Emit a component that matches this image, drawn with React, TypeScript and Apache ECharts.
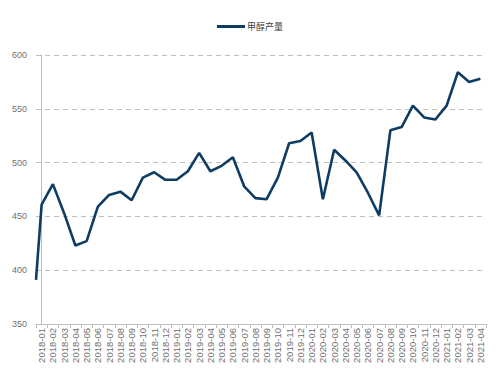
import React, { useEffect, useRef } from "react";
import * as echarts from "echarts";

const categories: string[] = [
  "2018-01", "2018-02", "2018-03", "2018-04", "2018-05", "2018-06", "2018-07", "2018-08", "2018-09", "2018-10", "2018-11", "2018-12",
  "2019-01", "2019-02", "2019-03", "2019-04", "2019-05", "2019-06", "2019-07", "2019-08", "2019-09", "2019-10", "2019-11", "2019-12",
  "2020-01", "2020-02", "2020-03", "2020-04", "2020-05", "2020-06", "2020-07", "2020-08", "2020-09", "2020-10", "2020-11", "2020-12",
  "2021-01", "2021-02", "2021-03", "2021-04",
];

const methanolOutput: number[] = [
  461, 480, 453, 423, 427, 459, 470, 473, 465, 486, 491, 484,
  484, 492, 509, 492, 497, 505, 478, 467, 466, 486, 518, 520,
  528, 466, 512, 502, 491, 472, 451, 530, 533, 553, 542, 540,
  553, 584, 575, 578,
];

// value where the line enters the plot at the left edge (lead-in from the previous month)
const leadInValue = 391;

const seriesName = "甲醇产量";
const yTicks = { min: 350, max: 600, interval: 50 };

export default function App() {
  const ref = useRef<HTMLDivElement>(null);
  useEffect(() => {
    if (!ref.current) return;
    const chart = echarts.init(ref.current, undefined, { renderer: "svg" });
    const points: [number, number][] = [[-0.5, leadInValue], ...methanolOutput.map((v, i) => [i, v] as [number, number])];
    chart.setOption({
      animation: false,
      backgroundColor: "#ffffff",
      textStyle: { fontFamily: "Liberation Sans, Arial, sans-serif" },
      legend: {
        top: 17,
        left: "center",
        icon: "rect",
        itemWidth: 28,
        itemHeight: 3,
        itemGap: 10,
        textStyle: { fontSize: 9, color: "#404040", fontFamily: "Noto Sans CJK SC, sans-serif", padding: [0, 0, 0, -3] },
        data: [seriesName],
      },
      grid: { left: 36, right: 14, top: 55, bottom: 52, containLabel: false },
      xAxis: [
        {
          type: "category",
          data: categories,
          boundaryGap: true,
          axisLine: { show: true, lineStyle: { color: "#bfbfbf", width: 1 } },
          axisTick: { show: true, length: 4, lineStyle: { color: "#bfbfbf" } },
          axisLabel: { rotate: 90, fontSize: 9.5, color: "#6f6f6f", margin: 4, interval: 0 },
          splitLine: { show: false },
        },
        {
          type: "value",
          show: false,
          min: -0.5,
          max: categories.length - 0.5,
          splitLine: { show: false },
        },
      ],
      yAxis: {
        type: "value",
        min: yTicks.min,
        max: yTicks.max,
        interval: yTicks.interval,
        axisLine: { show: true, lineStyle: { color: "#bfbfbf", width: 1 } },
        axisTick: { show: true, length: 3, lineStyle: { color: "#bfbfbf" } },
        axisLabel: { fontSize: 9, color: "#6f6f6f", margin: 9 },
        splitLine: { show: true, lineStyle: { color: "#bfbfbf", type: [5, 4], width: 1 } },
      },
      series: [
        {
          name: seriesName,
          type: "line",
          xAxisIndex: 1,
          data: points,
          symbol: "none",
          clip: true,
          lineStyle: { color: "#0e3c63", width: 2.6 },
          itemStyle: { color: "#0e3c63" },
        },
      ],
    });
    return () => chart.dispose();
  }, []);
  return <div ref={ref} style={{ position: "fixed", left: 0, top: 0, width: 500, height: 376 }} />;
}
